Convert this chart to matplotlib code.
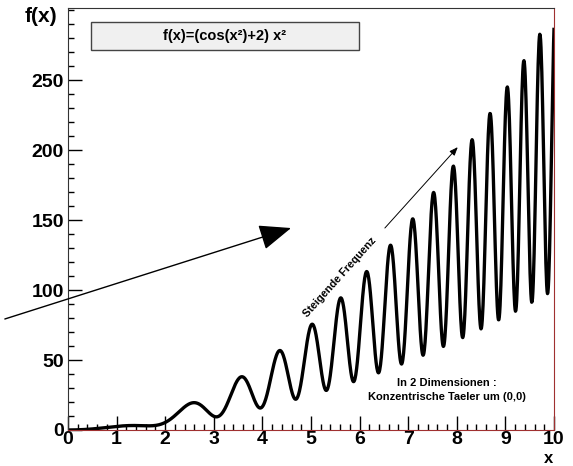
import numpy as np
import matplotlib.pyplot as plt
from matplotlib.patches import Rectangle
from matplotlib.ticker import MultipleLocator

plt.rcParams['font.family'] = ['Liberation Sans', 'DejaVu Sans']
plt.rcParams['font.weight'] = 'bold'

# function shown in the chart title box: f(x) = (cos(x^2)+2) x^2
x = np.linspace(0, 10, 1200)
f = (np.cos(x**2) + 2) * x**2

x_ticks = [0, 1, 2, 3, 4, 5, 6, 7, 8, 9, 10]
y_ticks = [0, 50, 100, 150, 200, 250]

fig = plt.figure(figsize=(5.73, 4.66), dpi=100)
ax = fig.add_axes([0.1187, 0.0773, 0.8481, 0.9055])

ax.plot(x, f, color='black', lw=2.4)
ax.set_xlim(0, 10)
ax.set_ylim(0, 301.5)

ax.set_xticks(x_ticks)
ax.set_yticks(y_ticks)
ax.xaxis.set_minor_locator(MultipleLocator(0.2))
ax.yaxis.set_minor_locator(MultipleLocator(10))
ax.tick_params(which='major', direction='in', length=10, width=1, labelsize=14)
ax.tick_params(which='minor', direction='in', length=4.5, width=1)
ax.tick_params(axis='x', pad=1)
ax.tick_params(axis='y', pad=3)
for lab in ax.get_xticklabels() + ax.get_yticklabels():
    lab.set_fontweight('bold')

for s in ['left', 'top']:
    ax.spines[s].set_color('#333333')
for s in ['bottom', 'right']:
    ax.spines[s].set_color('#a03030')

# axis titles
fig.text(0.10, 0.965, 'f(x)', fontsize=15, fontweight='bold', ha='right', va='center')
fig.text(0.958, 0.001, 'x', fontsize=12, fontweight='bold', ha='center', va='bottom')

# formula box
ax.add_patch(Rectangle((0.0473, 0.9005), 0.552, 0.0665, transform=ax.transAxes,
                       facecolor='#f0f0f0', edgecolor='#444444', lw=1, zorder=3))
ax.text(0.323, 0.934, 'f(x)=(cos(x²)+2) x²', transform=ax.transAxes,
        ha='center', va='center', fontsize=10.5, fontweight='bold', zorder=4)

# big arrow
ax.annotate('', xy=(4.59, 144.3), xytext=(-1.30, 79.3), annotation_clip=False,
            arrowprops=dict(arrowstyle='-|>,head_length=2.0,head_width=0.8',
                            color='black', lw=1, shrinkA=0, shrinkB=0))

# small arrow
ax.annotate('', xy=(8.02, 202.1), xytext=(6.52, 144.3),
            arrowprops=dict(arrowstyle='-|>,head_length=0.5,head_width=0.2',
                            color='black', lw=0.7, shrinkA=0, shrinkB=0))
ax.text(5.6, 109.3, 'Steigende Frequenz', rotation=48, ha='center', va='center',
        fontsize=7.8, fontweight='bold')

ax.text(7.8, 33.5, 'In 2 Dimensionen :', ha='center', va='center',
        fontsize=8, fontweight='bold')
ax.text(7.8, 23.5, 'Konzentrische Taeler um (0,0)', ha='center', va='center',
        fontsize=8, fontweight='bold')

fig.savefig('out.png', dpi=100)
